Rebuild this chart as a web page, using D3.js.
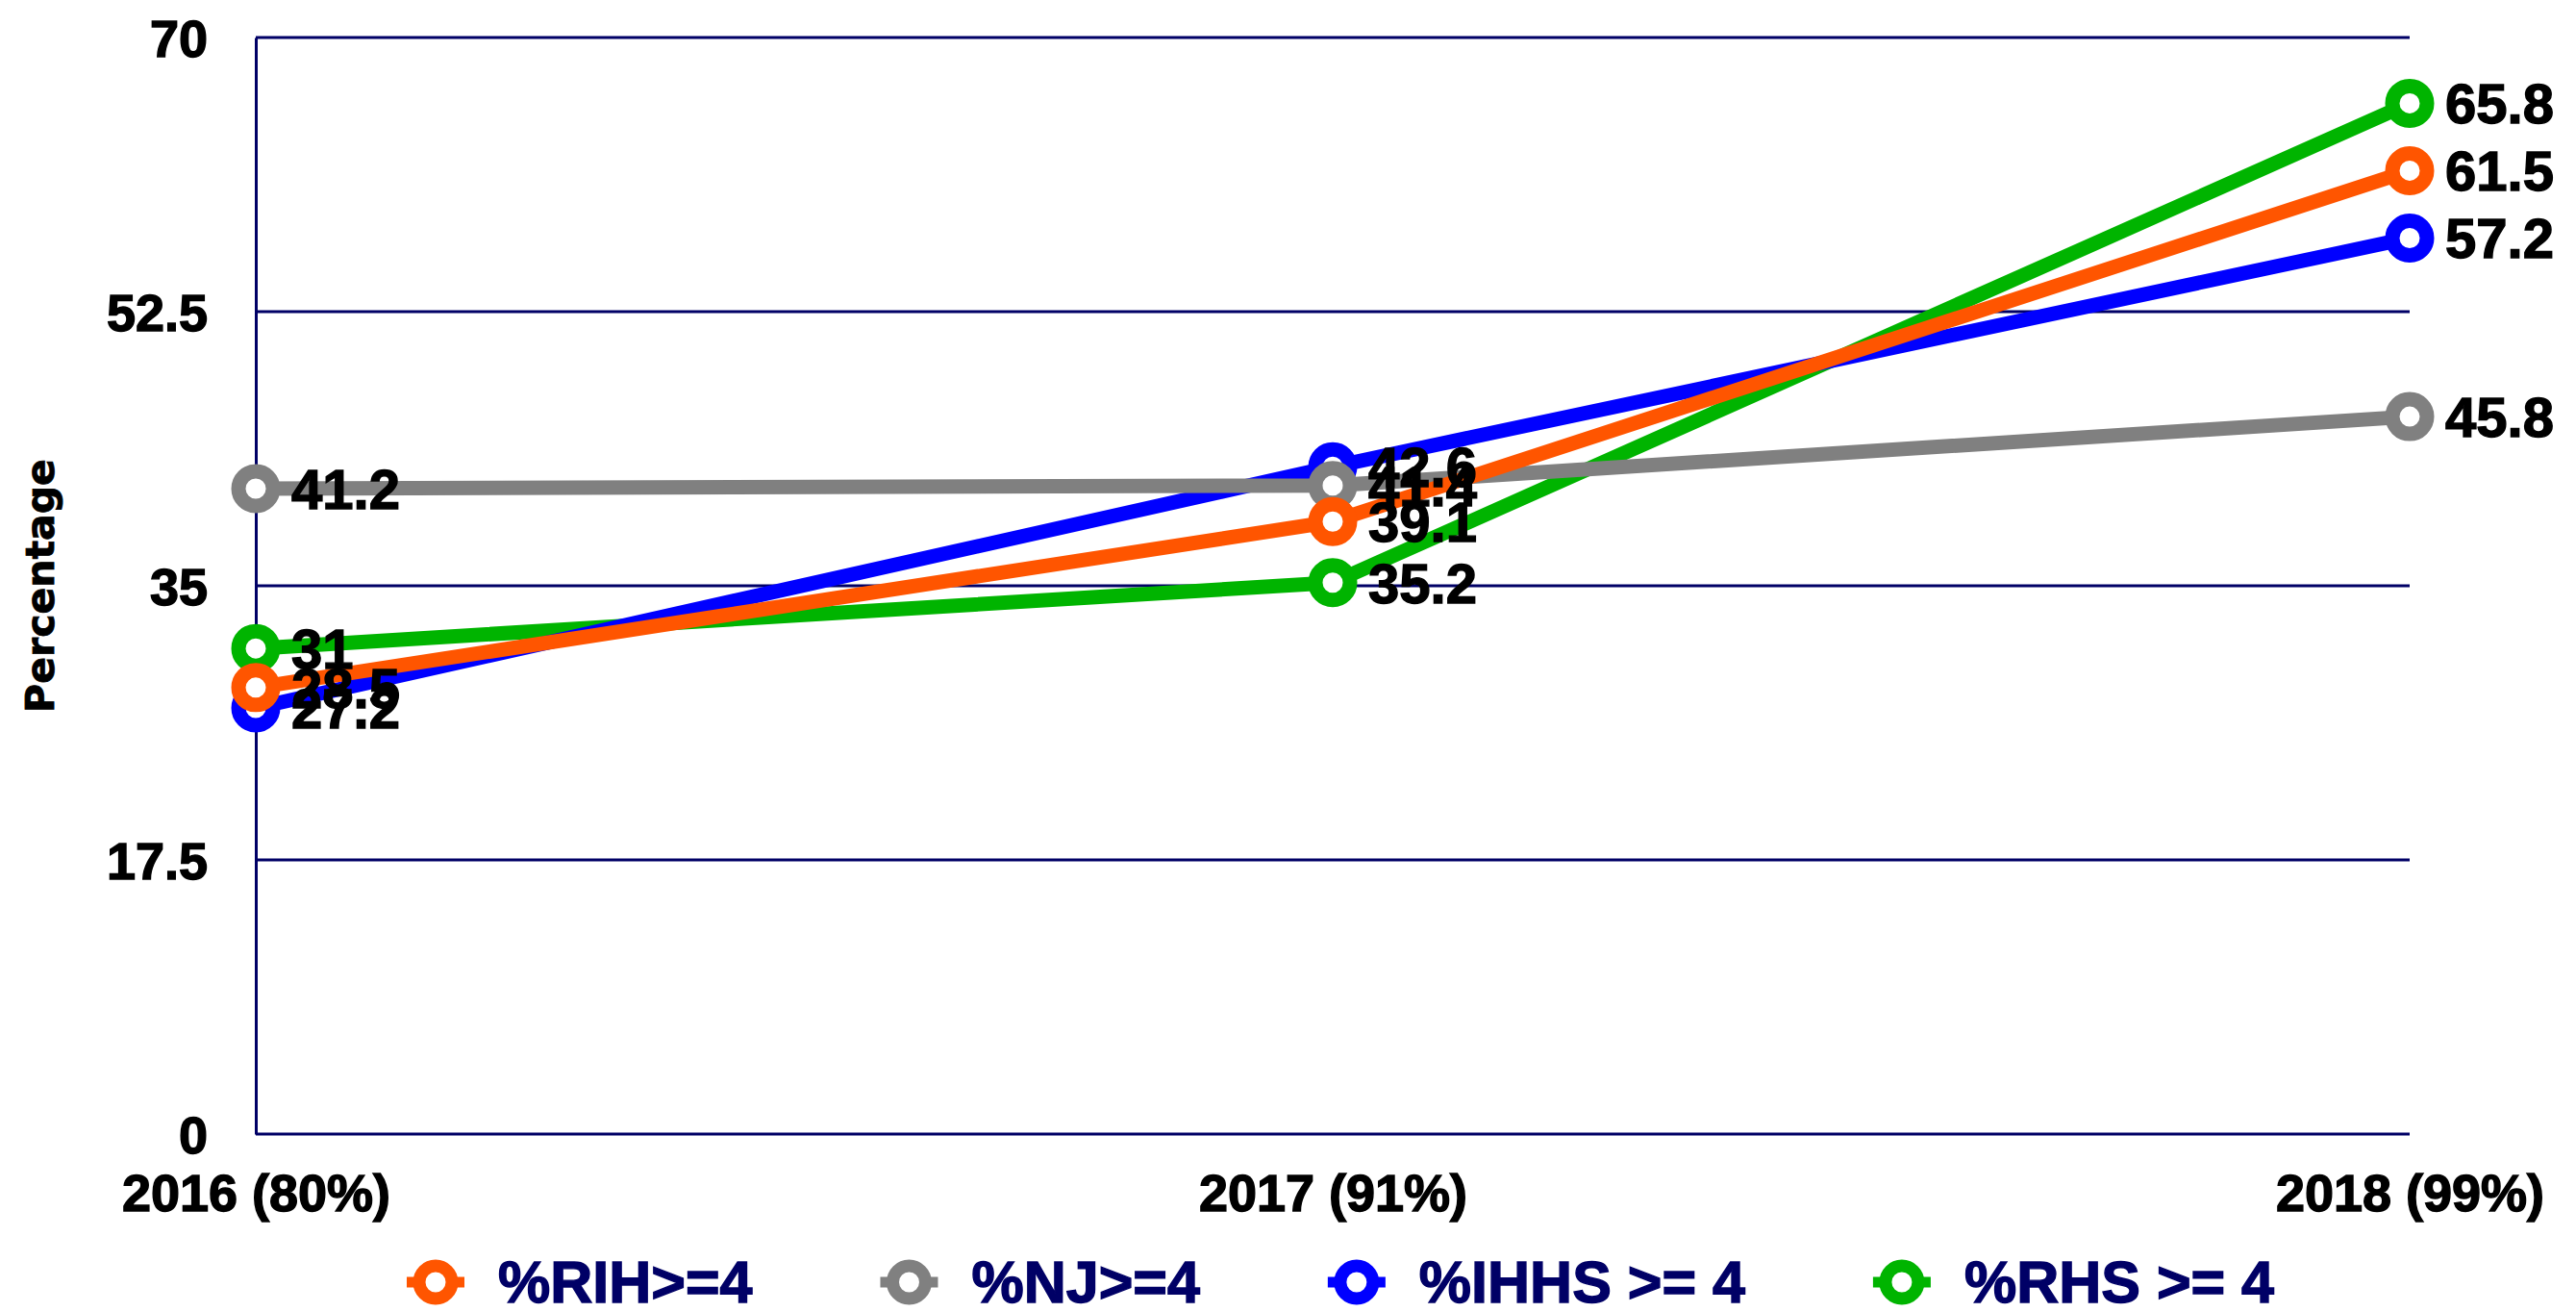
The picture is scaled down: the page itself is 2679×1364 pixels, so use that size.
<!DOCTYPE html>
<meta charset="utf-8">
<style>
body { margin: 0; background: #fff; }
svg { display: block; background: #fff; }
.tick-label { font: bold 54px "Liberation Sans", Arial, sans-serif; fill: #000; stroke: #000; stroke-width: 1.4px; }
.data-label { font: bold 58px "Liberation Sans", Arial, sans-serif; fill: #000; stroke: #000; stroke-width: 1.4px; }
.legend text { font: bold 61px "Liberation Sans", Arial, sans-serif; fill: #000066; stroke: #000066; stroke-width: 1.4px; }
.y-title { font: bold 41px "DejaVu Sans", sans-serif; fill: #000; stroke: #000; stroke-width: 0.8px; }
</style>
<body>
<div id="chart"></div>
<script src="https://d3js.org/d3.v7.min.js"></script>
<script>
var categories = ["2016 (80%)", "2017 (91%)", "2018 (99%)"];
var seriesNames = ["%RIH>=4", "%NJ>=4", "%IHHS >= 4", "%RHS >= 4"];
var seriesColors = ["#ff5500", "#808080", "#0000ff", "#00b400"];
var rihValues = [28.5, 39.1, 61.5];
var njValues = [41.2, 41.4, 45.8];
var ihhsValues = [27.2, 42.6, 57.2];
var rhsValues = [31, 35.2, 65.8];
var yTicks = [0, 17.5, 35, 52.5, 70];

var allValues = [rihValues, njValues, ihhsValues, rhsValues];
var series = seriesNames.map(function(name, i) {
  return { name: name, color: seriesColors[i],
    values: categories.map(function(c, j) { return { cat: c, v: allValues[i][j] }; }) };
});

var width = 2679, height = 1364,
    margin = {top: 39, right: 173, bottom: 185, left: 266};

var svg = d3.select("#chart").append("svg")
    .attr("width", width)
    .attr("height", height);

var x = d3.scalePoint().domain(categories).range([margin.left, width - margin.right]);
var y = d3.scaleLinear().domain([0, 70]).range([height - margin.bottom, margin.top]);

// gridlines
svg.append("g")
  .selectAll("line")
  .data(yTicks.filter(function(d) { return d > 0; }))
  .enter().append("line")
    .attr("x1", margin.left).attr("x2", width - margin.right)
    .attr("y1", function(d) { return y(d); })
    .attr("y2", function(d) { return y(d); })
    .attr("stroke", "#000066").attr("stroke-width", 3);

// y axis
var yAxis = svg.append("g")
    .attr("transform", "translate(" + margin.left + ",0)")
    .call(d3.axisLeft(y).tickValues(yTicks).tickSize(0).tickPadding(50).tickFormat(function(d) { return d; }));
yAxis.select(".domain").attr("stroke", "#000066").attr("stroke-width", 3);
yAxis.selectAll("text").attr("class", "tick-label").attr("dy", "0.36em");

// x axis
var xAxis = svg.append("g")
    .attr("transform", "translate(0," + y(0) + ")")
    .call(d3.axisBottom(x).tickSize(0).tickPadding(42));
xAxis.select(".domain").attr("stroke", "#000066").attr("stroke-width", 3)
    .attr("d", "M" + margin.left + ",0H" + (width - margin.right));
xAxis.selectAll("text").attr("class", "tick-label");

svg.append("text")
    .attr("class", "y-title")
    .attr("transform", "translate(56," + ((y(0) + y(70)) / 2) + ") rotate(-90)")
    .attr("text-anchor", "middle")
    .text("Percentage");

var line = d3.line()
    .x(function(d) { return x(d.cat); })
    .y(function(d) { return y(d.v); });

// draw green first, orange last (orange on top)
var drawOrder = series.slice().reverse();

var groups = svg.selectAll(".series")
  .data(drawOrder)
  .enter().append("g")
    .attr("class", "series");

groups.append("path")
    .attr("d", function(d) { return line(d.values); })
    .attr("fill", "none")
    .attr("stroke", function(d) { return d.color; })
    .attr("stroke-width", 15)
    .attr("stroke-linejoin", "round");

groups.selectAll("circle")
  .data(function(d) { return d.values.map(function(p) { return {cat: p.cat, v: p.v, color: d.color}; }); })
  .enter().append("circle")
    .attr("cx", function(d) { return x(d.cat); })
    .attr("cy", function(d) { return y(d.v); })
    .attr("r", 18)
    .attr("fill", "#fff")
    .attr("stroke", function(d) { return d.color; })
    .attr("stroke-width", 15);

// data labels
var labels = svg.append("g");
drawOrder.forEach(function(s) {
  labels.selectAll(null)
    .data(s.values)
    .enter().append("text")
      .attr("class", "data-label")
      .attr("x", function(d) { return x(d.cat) + 37; })
      .attr("y", function(d) { return y(d.v); })
      .attr("dy", "0.36em")
      .text(function(d) { return d.v; });
});

// legend
var legend = svg.append("g").attr("class", "legend");
var lx = 453, ly = 1333;
series.forEach(function(s) {
  var g = legend.append("g").attr("transform", "translate(" + lx + "," + ly + ")");
  g.append("line").attr("x1", -30).attr("x2", 30)
    .attr("stroke", s.color).attr("stroke-width", 11);
  g.append("circle").attr("r", 17).attr("fill", "#fff")
    .attr("stroke", s.color).attr("stroke-width", 13);
  var t = g.append("text").attr("x", 65).attr("dy", "0.34em").text(s.name);
  lx += 65 + t.node().getComputedTextLength() + 163;
});
</script>
</body>
